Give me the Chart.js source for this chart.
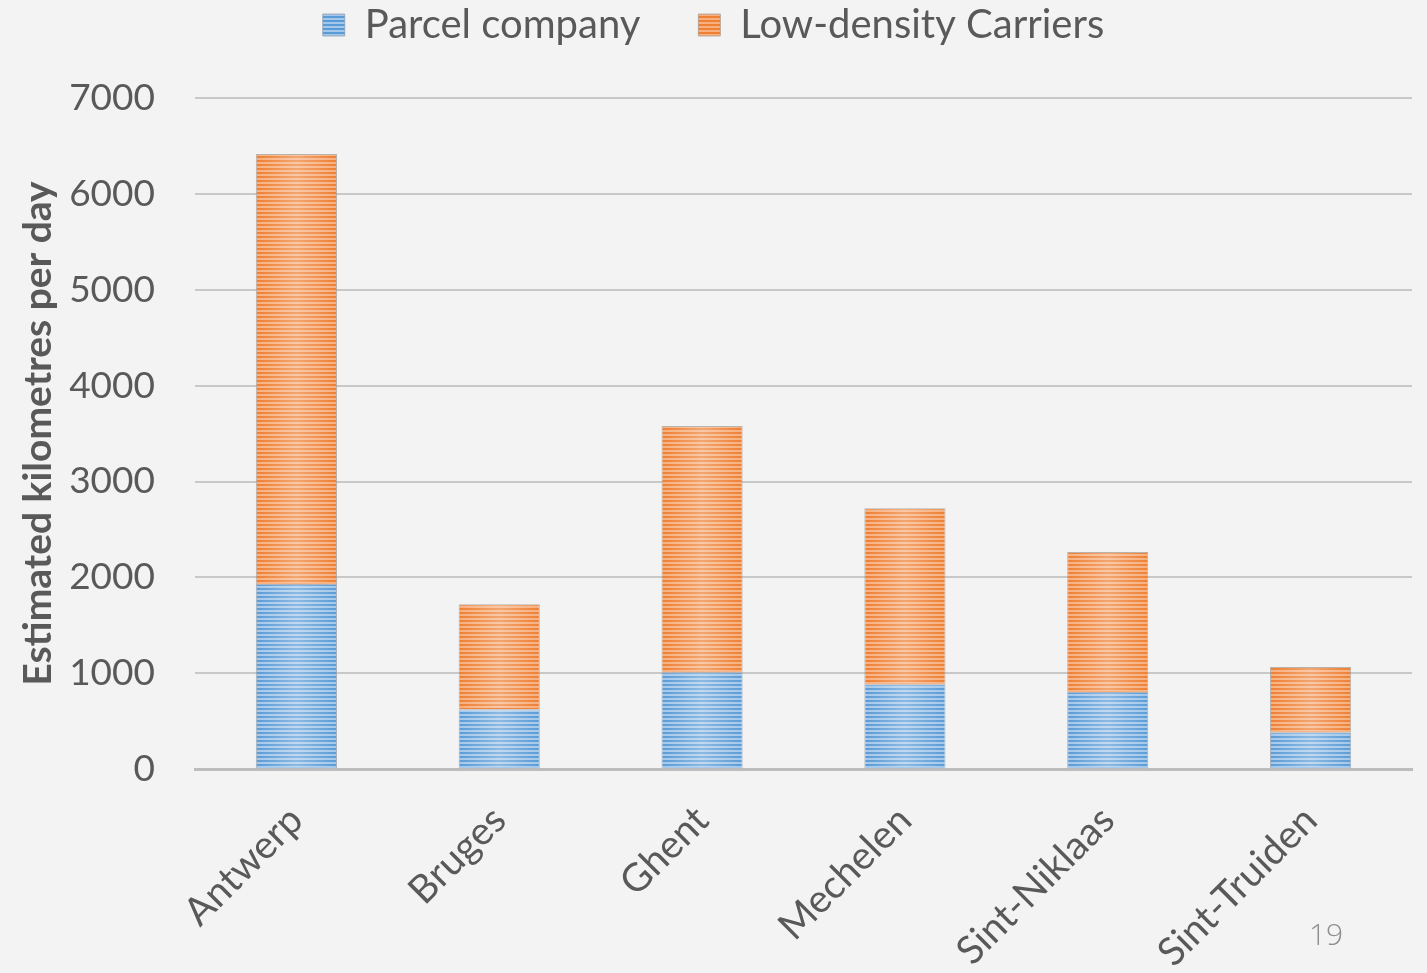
<!DOCTYPE html>
<html>
<head>
<meta charset="utf-8">
<script src="https://cdn.jsdelivr.net/npm/chart.js@4/dist/chart.umd.min.js"></script>
<style>
    html, body { margin: 0; padding: 0; background: #f3f3f3; }
    #wrap { position: relative; width: 1427px; height: 973px; }
    #slideNum { position: absolute; left: 1309px; top: 913px; font: 300 30px "Open Sans", sans-serif; color: #8e8e8e; }
</style>
</head>
<body>
<div id="wrap">
    <canvas id="chart" width="1427" height="973"></canvas>
    <div id="slideNum">19</div>
</div>
<script>
// Data
const cities = ["Antwerp", "Bruges", "Ghent", "Mechelen", "Sint-Niklaas", "Sint-Truiden"];
const parcelCompany = [1930, 625, 1010, 885, 805, 385];
const lowDensityCarriers = [4485, 1095, 2570, 1835, 1460, 680];
const yTicks = [0, 1000, 2000, 3000, 4000, 5000, 6000, 7000];

// Striped fill like the Office "horizontal lines" texture
function stripes(dark, light) {
    let c = document.createElement("canvas");
    c.width = 8;
    c.height = 4;
    let g = c.getContext("2d");
    g.fillStyle = light;
    g.fillRect(0, 0, 8, 4);
    g.fillStyle = dark;
    g.fillRect(0, 0, 8, 2);
    return g.createPattern(c, "repeat");
}

// Lighter centre on every bar
const barShine = {
    id: "barShine",
    afterDatasetsDraw(chart) {
        let ctx = chart.ctx;
        chart.data.datasets.forEach((ds, i) => {
            chart.getDatasetMeta(i).data.forEach(bar => {
                let p = bar.getProps(["x", "y", "base", "width"], true);
                let left = p.x - p.width / 2;
                let top = Math.min(p.y, p.base);
                let h = Math.abs(p.base - p.y);
                let grad = ctx.createLinearGradient(left, 0, left + p.width, 0);
                grad.addColorStop(0, "rgba(255,255,255,0)");
                grad.addColorStop(0.5, "rgba(255,255,255,0.3)");
                grad.addColorStop(1, "rgba(255,255,255,0)");
                ctx.save();
                ctx.fillStyle = grad;
                ctx.fillRect(left + 1, top + 1, p.width - 2, h - 2);
                ctx.restore();
            });
        });
    }
};

// Extra room under the legend
const legendSpace = {
    id: "legendSpace",
    beforeInit(chart) {
        const origFit = chart.legend.fit;
        chart.legend.fit = function () {
            origFit.bind(chart.legend)();
            this.height += 43;
        };
    }
};

const textColor = "#595959";
const fontFamily = "Lato, 'Open Sans', sans-serif";

let ctx = document.getElementById("chart").getContext("2d");
let chart = new Chart(ctx, {
    type: "bar",
    data: {
        labels: cities,
        datasets: [
            {
                label: "Parcel company",
                data: parcelCompany,
                backgroundColor: stripes("#5b9bd5", "#a4c8eb"),
                borderColor: "rgba(140,150,165,0.7)",
                borderWidth: 1,
                barPercentage: 0.4,
                categoryPercentage: 1
            },
            {
                label: "Low-density Carriers",
                data: lowDensityCarriers,
                backgroundColor: stripes("#ee7f33", "#f7b080"),
                borderColor: "rgba(160,150,140,0.7)",
                borderWidth: 1,
                barPercentage: 0.4,
                categoryPercentage: 1
            }
        ]
    },
    options: {
        responsive: false,
        animation: false,
        layout: { padding: { left: 15, right: 15, top: -53, bottom: -10 } },
        plugins: {
            legend: {
                position: "top",
                labels: {
                    color: textColor,
                    font: { family: fontFamily, size: 40 },
                    boxWidth: 22,
                    boxHeight: 22,
                    padding: 58
                }
            },
            tooltip: { enabled: false }
        },
        scales: {
            x: {
                stacked: true,
                grid: { display: false },
                border: { display: true, color: "#bdbdbd", width: 3 },
                ticks: {
                    color: textColor,
                    font: { family: fontFamily, size: 39 },
                    minRotation: 45,
                    maxRotation: 45,
                    padding: 20
                },
                afterFit: axis => {
                    axis.paddingLeft = 0;
                    axis.paddingRight = 0;
                    axis.height -= 13;
                }
            },
            y: {
                stacked: true,
                min: 0,
                max: 7000,
                afterBuildTicks: axis => { axis.ticks = yTicks.map(v => ({ value: v })); },
                afterFit: axis => { axis.width = 180; },
                grid: { color: "#c8c8c8", lineWidth: 2, drawTicks: false },
                border: { display: false },
                ticks: {
                    color: textColor,
                    font: { family: fontFamily, size: 37 },
                    padding: 40,
                    callback: v => String(v)
                },
                title: {
                    display: true,
                    text: "Estimated kilometres per day",
                    color: textColor,
                    font: { family: fontFamily, size: 39, weight: "bold" },
                    padding: { top: 0, bottom: 6 }
                }
            }
        }
    },
    plugins: [barShine, legendSpace]
});
</script>
</body>
</html>
